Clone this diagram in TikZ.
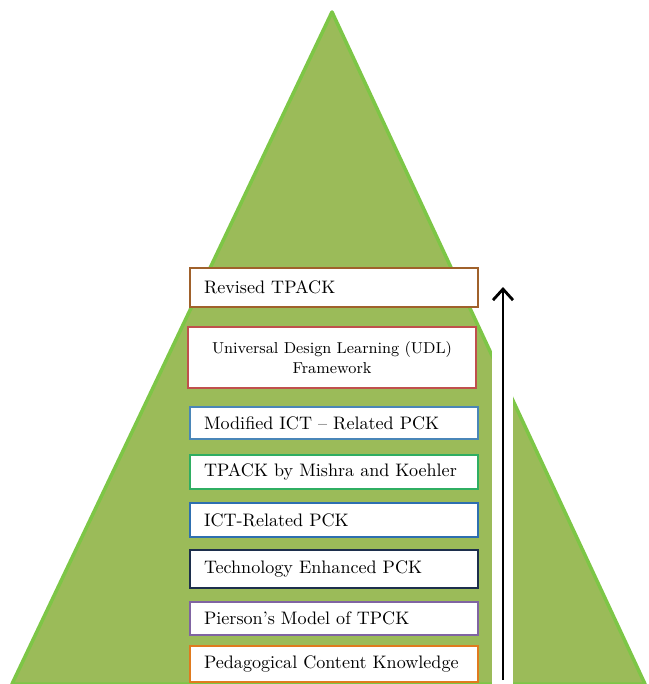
\documentclass[tikz,border=0pt]{standalone}
\usepackage{tikz}
\usetikzlibrary{arrows.meta,positioning}
\definecolor{leaf}{HTML}{9BBB59}
\definecolor{rim}{HTML}{7DC646}
\definecolor{brownb}{HTML}{A0612B}
\definecolor{redb}{HTML}{C0504D}
\definecolor{steelb}{HTML}{4A86B8}
\definecolor{greenb}{HTML}{2FAE62}
\definecolor{blueb}{HTML}{2E6FB0}
\definecolor{navyb}{HTML}{1C2E4C}
\definecolor{purpb}{HTML}{8064A2}
\definecolor{orangeb}{HTML}{E07A1E}

\begin{document}
\begin{tikzpicture}[x=0.02cm,y=-0.02cm,
  stage/.style={draw,fill=white,line width=1.3pt,minimum width=5.76cm,
    text width=5.2cm,inner xsep=0.28cm,inner ysep=0pt,
    font=\fontsize{10.3}{12}\selectfont}]
  \useasboundingbox (0,0) rectangle (649,684);
  \fill[white] (0,0) rectangle (649,684);

  % pyramid, split by the white lane of the arrow
  \filldraw[fill=leaf,draw=rim,line width=2pt,line join=round] (332,12) -- (645,684) -- (12,684) -- cycle;
  \fill[white] (492,0) rectangle (513,684);
  \fill[white] (513,0) -- (513,393) -- (500,393) -- (500,0) -- cycle;

  \foreach \n/\yc/\hh/\col/\txt in {
    1/287.5/39/brownb/{Revised TPACK},
    3/423/32/steelb/{Modified ICT -- Related PCK},
    4/472/34/greenb/{TPACK by Mishra and Koehler},
    5/520/34/blueb/{ICT-Related PCK},
    6/569/38/navyb/{Technology Enhanced PCK},
    7/618.5/33/purpb/{Pierson's Model of TPCK},
    8/664/36/orangeb/{Pedagogical Content Knowledge}} {
    \node[stage,draw=\col,align=left,minimum height=\hh*0.02cm] (s\n) at (334,\yc) {\txt};
  }
  \node[stage,draw=redb,align=center,minimum width=5.66cm,minimum height=1.22cm,
    font=\fontsize{9}{11}\selectfont] (s2) at (332,357.5) {Universal Design Learning (UDL)\\Framework};

  \coordinate (arrbot) at (503,680);
  \coordinate (arrtop) at (503,287);
  \draw[-{Straight Barb[length=2.2mm,width=4mm]},line width=1.6pt] (arrbot) -- (arrtop);
\end{tikzpicture}
\end{document}
